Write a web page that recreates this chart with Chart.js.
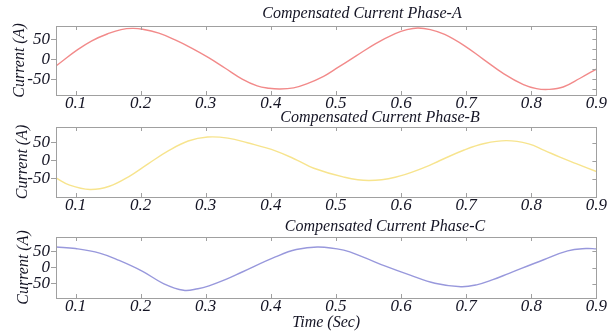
<!DOCTYPE html>
<html>
<head>
<meta charset="utf-8">
<script src="https://cdn.jsdelivr.net/npm/chart.js@4.4.1/dist/chart.umd.min.js"></script>
<style>
  html, body { margin: 0; padding: 0; background: #fff; overflow: hidden; }
  body { width: 607px; height: 334px; position: relative; }
  canvas { position: absolute; left: 0; }
</style>
</head>
<body>
<canvas id="phaseA" width="607" height="112" style="top:0px"></canvas>
<canvas id="phaseB" width="607" height="110" style="top:104px"></canvas>
<canvas id="phaseC" width="607" height="118" style="top:213px"></canvas>
<script>
// tick labels
const xTicks = [0.1, 0.2, 0.3, 0.4, 0.5, 0.6, 0.7, 0.8, 0.9];
const yTicks = [-50, 0, 50];
const xRange = [0.07, 0.9];

// Phase A
const timeA = [0.070, 0.079, 0.100, 0.125, 0.152, 0.170, 0.187, 0.203, 0.228, 0.253, 0.279, 0.305, 0.330, 0.356, 0.379, 0.397, 0.414, 0.435, 0.455, 0.481, 0.500, 0.531, 0.561, 0.591, 0.609, 0.626, 0.645, 0.667, 0.697, 0.726, 0.758, 0.788, 0.808, 0.826, 0.849, 0.875, 0.900];
const currentA = [-17, -6, 20, 46, 65, 74, 77, 75, 65, 48, 27, 3, -23, -50, -67, -73, -75, -72, -62, -43, -24, 8, 39, 64, 74, 78, 74, 62, 34, 0, -37, -64, -74, -76, -70, -48, -25];

// Phase B
const timeB = [0.070, 0.091, 0.122, 0.152, 0.182, 0.212, 0.243, 0.273, 0.303, 0.334, 0.364, 0.408, 0.440, 0.466, 0.511, 0.550, 0.591, 0.637, 0.659, 0.697, 0.728, 0.762, 0.796, 0.820, 0.844, 0.869, 0.900];
const currentB = [-48, -68, -80, -71, -44, -8, 28, 55, 66, 63, 50, 27, 2, -21, -45, -55, -46, -18, 0, 30, 48, 56, 47, 29, 10, -8, -30];

// Phase C
const timeC = [0.070, 0.100, 0.137, 0.167, 0.203, 0.235, 0.266, 0.288, 0.305, 0.330, 0.356, 0.407, 0.439, 0.473, 0.512, 0.541, 0.576, 0.614, 0.652, 0.692, 0.716, 0.741, 0.766, 0.820, 0.856, 0.884, 0.900];
const currentC = [64, 59, 45, 22, -12, -50, -71, -66, -57, -38, -14, 33, 56, 64, 54, 33, 4, -24, -49, -60, -54, -38, -18, 25, 52, 59, 58];

Chart.defaults.font.family = '"Liberation Serif", "DejaVu Serif", serif';
Chart.defaults.font.style = 'italic';
Chart.defaults.color = '#141424';

const frameColor = '#a0a0a0';
const textColor = '#141424';

// box around the plot, inward ticks, and the (off-centre) panel title
const panelFrame = {
  id: 'panelFrame',
  afterDraw(chart, args, opts) {
    const { ctx, chartArea: a, scales } = chart;
    ctx.save();
    ctx.strokeStyle = frameColor;
    ctx.lineWidth = 1;
    ctx.strokeRect(Math.round(a.left) + 0.5, Math.round(a.top) + 0.5,
                   Math.round(a.right - a.left), Math.round(a.bottom - a.top));
    ctx.beginPath();
    scales.x.ticks.forEach(t => {
      const px = Math.round(scales.x.getPixelForValue(t.value)) + 0.5;
      ctx.moveTo(px, a.top); ctx.lineTo(px, a.top + 4);
      ctx.moveTo(px, a.bottom); ctx.lineTo(px, a.bottom - 4);
    });
    opts.rightTicks.forEach(v => {
      const py = Math.round(scales.y.getPixelForValue(v)) + 0.5;
      ctx.moveTo(a.right, py); ctx.lineTo(a.right - 4, py);
    });
    ctx.stroke();

    ctx.font = 'italic 16px "Liberation Serif", serif';
    ctx.fillStyle = textColor;
    ctx.textAlign = 'center';
    ctx.textBaseline = 'middle';
    ctx.fillText(opts.text, opts.x, opts.y);
    ctx.restore();
  }
};

function makePanel(id, time, values, color, p) {
  const ctx = document.getElementById(id).getContext('2d');
  return new Chart(ctx, {
    type: 'line',
    data: {
      datasets: [{
        data: time.map((t, i) => ({ x: t, y: values[i] })),
        borderColor: color,
        borderWidth: 1.4,
        pointRadius: 0,
        fill: false,
        tension: 0.4
      }]
    },
    options: {
      responsive: false,
      animation: false,
      layout: { padding: { top: p.padTop, left: 0, right: 3, bottom: 0 } },
      plugins: {
        legend: { display: false },
        tooltip: { enabled: false },
        panelFrame: { text: p.title, x: p.titleX, y: 14, rightTicks: p.rightTicks }
      },
      scales: {
        x: {
          type: 'linear',
          min: xRange[0],
          max: xRange[1],
          afterBuildTicks: s => { s.ticks = xTicks.map(v => ({ value: v })); },
          grid: { drawOnChartArea: false, drawTicks: false },
          border: { color: frameColor },
          ticks: {
            autoSkip: false,
            maxRotation: 0,
            padding: 0,
            font: { size: 17, lineHeight: 1 },
            callback: v => v.toFixed(1)
          },
          title: {
            display: !!p.xTitle,
            text: p.xTitle || '',
            padding: { top: 0, bottom: 0 },
            font: { size: 16, lineHeight: 1 }
          }
        },
        y: {
          min: p.yRange[0],
          max: p.yRange[1],
          afterBuildTicks: s => { s.ticks = yTicks.map(v => ({ value: v })); },
          afterFit: s => { s.width = 56; },
          grid: { drawOnChartArea: false, drawTicks: true, tickLength: 5, color: frameColor },
          border: { color: frameColor },
          ticks: { padding: 1, font: { size: 17, lineHeight: 1 } },
          title: {
            display: true,
            text: 'Current (A)',
            padding: { top: p.yTitlePad, bottom: 0 },
            font: { size: 16 }
          }
        }
      }
    },
    plugins: [panelFrame]
  });
}

makePanel('phaseA', timeA, currentA, '#f28a8a', {
  title: 'Compensated Current Phase-A', titleX: 362, padTop: 26,
  yRange: [-90, 83], yTitlePad: 10, rightTicks: [-75, -50, -25, 0, 25, 50, 75]
});
makePanel('phaseB', timeB, currentB, '#f7e48e', {
  title: 'Compensated Current Phase-B', titleX: 380, padTop: 23,
  yRange: [-101, 94], yTitlePad: 13, rightTicks: yTicks
});
makePanel('phaseC', timeC, currentC, '#9898dc', {
  title: 'Compensated Current Phase-C', titleX: 385, padTop: 24,
  yRange: [-95, 95], yTitlePad: 14, rightTicks: yTicks, xTitle: 'Time (Sec)'
});
</script>
</body>
</html>
